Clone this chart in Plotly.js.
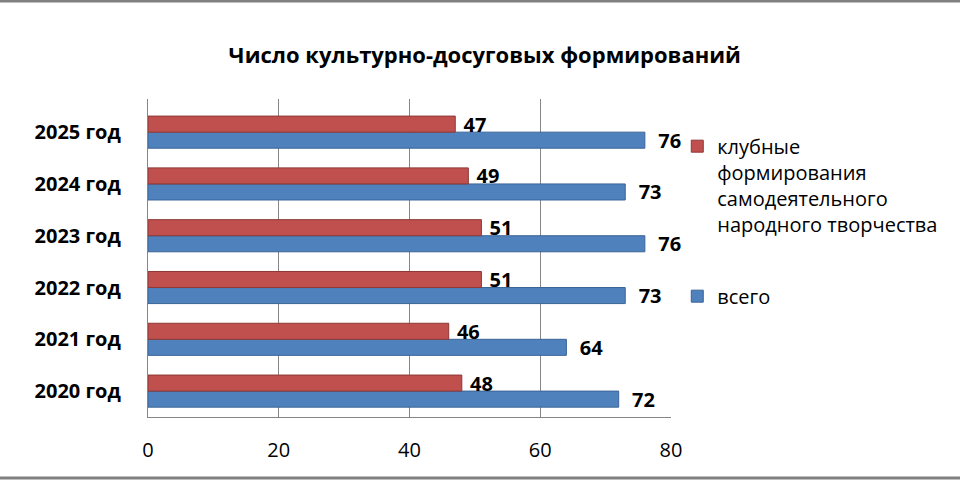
<!DOCTYPE html>
<html>
<head>
<meta charset="utf-8">
<script src="https://cdn.plot.ly/plotly-3.0.1.min.js"></script>
<style>html,body{margin:0;padding:0;background:#fff;}#chart{width:960px;height:480px;}</style>
</head>
<body>
<div id="chart"></div>
<script>
const categories = ['2020 год', '2021 год', '2022 год', '2023 год', '2024 год', '2025 год'];
const clubValues = [48, 46, 51, 51, 49, 47];
const totalValues = [72, 64, 73, 76, 73, 76];
const clubName = 'клубные<br>формирования<br>самодеятельного<br>народного творчества';
const totalName = 'всего';
const tickValues = [0, 20, 40, 60, 80];

const FONT = 'Open Sans, DejaVu Sans, sans-serif';
const W = 960, H = 480;
const L = 148, R = 671, T = 99, B = 417;
const PAD = '\u00a0';

const traces = [
  {
    type: 'bar', orientation: 'h', name: totalName, legendgroup: 'b', legendrank: 2,
    y: categories, x: totalValues,
    marker: {color: '#4F81BD', line: {color: '#3A6496', width: 1}},
    text: totalValues.map(v => PAD + PAD + v), textposition: 'outside', cliponaxis: false,
    constraintext: 'none',
    textfont: {family: FONT, size: 20, color: '#000', weight: 'bold'},
    hoverinfo: 'x+y'
  },
  {
    type: 'bar', orientation: 'h', name: clubName, legendgroup: 'a', legendrank: 1,
    y: categories, x: clubValues,
    marker: {color: '#C0504D', line: {color: '#8C3836', width: 1}},
    text: clubValues.map(v => PAD + v), textposition: 'outside', cliponaxis: false,
    constraintext: 'none',
    textfont: {family: FONT, size: 20, color: '#000', weight: 'bold'},
    hoverinfo: 'x+y'
  }
];

const layout = {
  width: W, height: H,
  margin: {l: L, r: W - R, t: T, b: H - B, pad: 0},
  paper_bgcolor: '#fff', plot_bgcolor: '#fff',
  font: {family: FONT, size: 20, color: '#000'},
  title: {
    text: '<b>Число культурно-досуговых формирований</b>',
    font: {family: FONT, size: 22, color: '#000'},
    x: 0.505, xref: 'container', xanchor: 'center', y: 0.885, yref: 'container', yanchor: 'middle'
  },
  barmode: 'group', bargap: 0.38, bargroupgap: 0,
  showlegend: true,
  legend: {
    x: 1.012, xanchor: 'left', y: 0.913, yanchor: 'top',
    traceorder: 'grouped', tracegroupgap: 43, valign: 'top',
    font: {family: FONT, size: 20, color: '#000'},
    itemwidth: 30, bgcolor: 'rgba(0,0,0,0)'
  },
  xaxis: {
    range: [0, 80], tickvals: tickValues, ticktext: tickValues.map(String),
    showgrid: true, gridcolor: '#868686', gridwidth: 1.3,
    zeroline: false, showline: true, linecolor: '#868686', linewidth: 1.3,
    ticks: '', ticklabelstandoff: 15,
    tickfont: {family: FONT, size: 20, color: '#000'},
    fixedrange: true
  },
  yaxis: {
    type: 'category', categoryorder: 'array', categoryarray: categories,
    range: [-0.5, 5.64],
    showgrid: false, zeroline: false, showline: true, linecolor: '#868686', linewidth: 1.3,
    ticks: '', ticklabelstandoff: 22,
    tickfont: {family: FONT, size: 20, color: '#000', weight: 'bold'},
    fixedrange: true
  },
  shapes: [
    {type: 'line', xref: 'paper', yref: 'paper', x0: -1, x1: 2, y0: 1 + (T - 1) / (B - T), y1: 1 + (T - 1) / (B - T), line: {color: '#808080', width: 3}},
    {type: 'line', xref: 'paper', yref: 'paper', x0: -1, x1: 2, y0: -(478 - B) / (B - T), y1: -(478 - B) / (B - T), line: {color: '#808080', width: 3}}
  ]
};

Plotly.newPlot('chart', traces, layout, {displayModeBar: false, staticPlot: true});
</script>
</body>
</html>
